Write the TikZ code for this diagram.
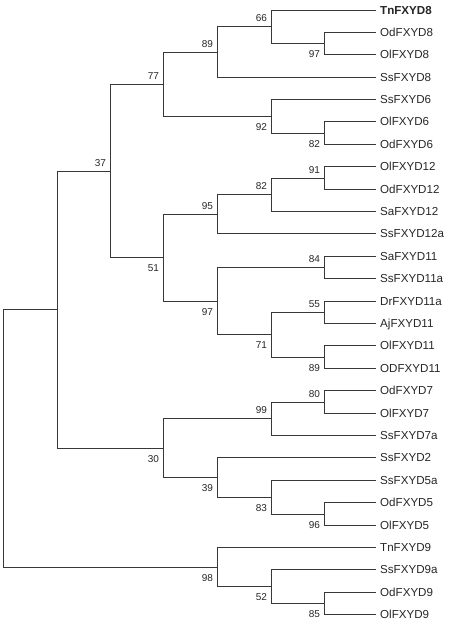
\documentclass[tikz,border=0pt]{standalone}
\usepackage{fontspec}
\setmainfont{Liberation Sans}
\begin{document}
\begin{tikzpicture}[x=1pt,y=-1pt,
  branch/.style={draw=black!78, line width=1.05pt},
  leaf/.style={anchor=west, inner xsep=0pt, inner ysep=0pt, text height=8.3pt, text depth=0pt,
    font=\fontsize{11.6}{13}\selectfont, text=black!85},
  bsup/.style={anchor=base east, inner sep=0pt, font=\fontsize{10}{12}\selectfont, text=black!85},
  bsdn/.style={anchor=base east, inner sep=0pt, font=\fontsize{10}{12}\selectfont, text=black!85}]
\useasboundingbox (0,0) rectangle (459,624);
\def\tip{375.5}
\foreach \n/\t [count=\i from 0] in {
  TnFXYD8/{\textbf{TnFXYD8}}, OdFXYD8/OdFXYD8, OlFXYD8/OlFXYD8, SsFXYD8/SsFXYD8,
  SsFXYD6/SsFXYD6, OlFXYD6/OlFXYD6, OdFXYD6/OdFXYD6, OlFXYD12/OlFXYD12,
  OdFXYD12/OdFXYD12, SaFXYD12/SaFXYD12, SsFXYD12a/SsFXYD12a, SaFXYD11/SaFXYD11,
  SsFXYD11a/SsFXYD11a, DrFXYD11a/DrFXYD11a, AjFXYD11/AjFXYD11, OlFXYD11/OlFXYD11,
  ODFXYD11/ODFXYD11, OdFXYD7/OdFXYD7, OlFXYD7/OlFXYD7, SsFXYD7a/SsFXYD7a,
  SsFXYD2/SsFXYD2, SsFXYD5a/SsFXYD5a, OdFXYD5/OdFXYD5, OlFXYD5/OlFXYD5,
  TnFXYD9/TnFXYD9, SsFXYD9a/SsFXYD9a, OdFXYD9/OdFXYD9, OlFXYD9/OlFXYD9} {
  \pgfmathsetmacro\yy{floor(10+22.4*\i)+0.5}
  \coordinate (t\i) at (\tip, \yy);
  \node[leaf] (L\i) at (380, \yy) {\t};
}
% internal nodes
\coordinate (n97a) at (324.5, 43.5);
\coordinate (n66)  at (271.5, 26.5);
\coordinate (n89)  at (217.5, 52.5);
\coordinate (n82a) at (324.5, 133.5);
\coordinate (n92)  at (271.5, 116.5);
\coordinate (n77)  at (163.5, 84.5);
\coordinate (n91)  at (324.5, 178.5);
\coordinate (n82b) at (271.5, 194.5);
\coordinate (n95)  at (217.5, 214.5);
\coordinate (n84)  at (324.5, 267.5);
\coordinate (n55)  at (324.5, 312.5);
\coordinate (n89b) at (324.5, 357.5);
\coordinate (n71)  at (271.5, 334.5);
\coordinate (n97b) at (217.5, 301.5);
\coordinate (n51)  at (163.5, 257.5);
\coordinate (n37)  at (110.5, 171.5);
\coordinate (n80)  at (324.5, 402.5);
\coordinate (n99)  at (271.5, 418.5);
\coordinate (n96)  at (324.5, 514.5);
\coordinate (n83)  at (271.5, 497.5);
\coordinate (n39)  at (217.5, 477.5);
\coordinate (n30)  at (163.5, 448.5);
\coordinate (nA)   at (57.5, 309.5);
\coordinate (n85)  at (324.5, 603.5);
\coordinate (n52)  at (271.5, 586.5);
\coordinate (n98)  at (217.5, 567.5);
\coordinate (root) at (3.5, 438.5);
% branches
\path[branch]
  (root) |- (nA)  (root) |- (n98)
  (nA) |- (n37)  (nA) |- (n30)
  (n37) |- (n77) (n37) |- (n51)
  (n77) |- (n89) (n77) |- (n92)
  (n89) |- (n66) (n89) |- (t3)
  (n66) |- (t0)  (n66) |- (n97a)
  (n97a) |- (t1) (n97a) |- (t2)
  (n92) |- (t4)  (n92) |- (n82a)
  (n82a) |- (t5) (n82a) |- (t6)
  (n51) |- (n95) (n51) |- (n97b)
  (n95) |- (n82b) (n95) |- (t10)
  (n82b) |- (n91) (n82b) |- (t9)
  (n91) |- (t7) (n91) |- (t8)
  (n97b) |- (n84) (n97b) |- (n71)
  (n84) |- (t11) (n84) |- (t12)
  (n71) |- (n55) (n71) |- (n89b)
  (n55) |- (t13) (n55) |- (t14)
  (n89b) |- (t15) (n89b) |- (t16)
  (n30) |- (n99) (n30) |- (n39)
  (n99) |- (n80) (n99) |- (t19)
  (n80) |- (t17) (n80) |- (t18)
  (n39) |- (t20) (n39) |- (n83)
  (n83) |- (t21) (n83) |- (n96)
  (n96) |- (t22) (n96) |- (t23)
  (n98) |- (t24) (n98) |- (n52)
  (n52) |- (t25) (n52) |- (n85)
  (n85) |- (t26) (n85) |- (t27);
% bootstrap values: above (upper child) / below (lower child)
\foreach \c/\v in {n66/66, n89/89, n77/77, n91/91, n82b/82, n95/95, n84/84, n55/55, n37/37, n80/80, n99/99}
  \node[bsup] (b\c) at ([xshift=-4.3pt, yshift=5pt]\c) {\v};
\foreach \c/\v in {n97a/97, n92/92, n82a/82, n51/51, n97b/97, n71/71, n89b/89, n30/30, n39/39, n83/83, n96/96, n98/98, n52/52, n85/85}
  \node[bsdn] (b\c) at ([xshift=-4.3pt, yshift=-13.9pt]\c) {\v};
\end{tikzpicture}
\end{document}
